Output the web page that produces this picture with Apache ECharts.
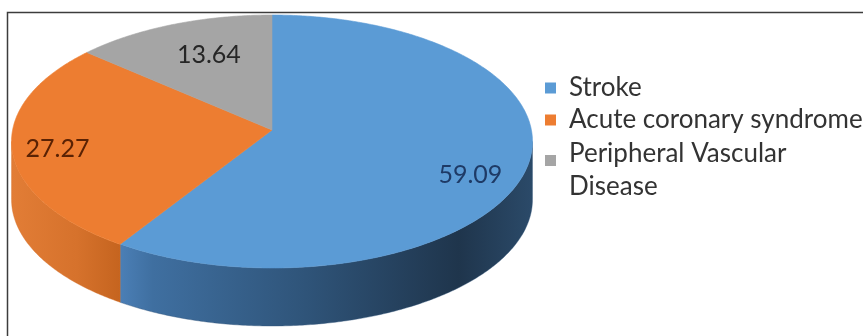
<!DOCTYPE html>
<html>
<head>
<meta charset="utf-8">
<script src="https://cdn.jsdelivr.net/npm/echarts@6/dist/echarts.min.js"></script>
<style>
  html, body { margin: 0; padding: 0; background: #ffffff; }
  #chart { width: 863px; height: 336px; }
</style>
</head>
<body>
<div id="chart"></div>
<script>
// Share of cases by diagnosis (%)
const categories = ['Stroke', 'Acute coronary syndrome', 'Peripheral Vascular Disease'];
const values = [59.09, 27.27, 13.64];

// Slice styling
const topColors = ['#5b9bd5', '#ed7d31', '#a5a5a5'];
const sideStops = [
  [[0, '#4b7fb6'], [0.08, '#3f6fa0'], [0.45, '#2f5479'], [0.82, '#1f354c'], [1, '#2b4a69']],
  [[0, '#e27d36'], [0.6, '#d6722c'], [1, '#c5641f']],
  [[0, '#8c8c8c'], [1, '#6e6e6e']]
];
const labelColors = ['#1e3a66', '#5a2204', '#262626'];
const labelShift = [[8, 18], [-20, 5], [13, 6]];

// Tilted-disc projection used for the 3-D pie
const geo = { cx: 272, cy: 130, sx: 259.4, sy: 125.45, k: 0.0909, depth: 58, labelR: 0.75 };
const TAU = Math.PI * 2;
const total = values.reduce((a, b) => a + b, 0);
const starts = values.map((v, i) => values.slice(0, i).reduce((a, b) => a + b, 0));
// rim section facing the viewer
const visFrom = Math.acos(-geo.k);
const visTo = TAU - visFrom;

function project(theta, r) {
  const a = r * Math.sin(theta);
  const b = -r * Math.cos(theta);
  const w = 1 - geo.k * b;
  return [geo.cx + geo.sx * a / w, geo.cy + geo.sy * b / w];
}

function arcPoints(t0, t1) {
  const n = Math.max(6, Math.ceil((t1 - t0) / 0.01));
  const pts = [];
  for (let j = 0; j <= n; j++) pts.push(project(t0 + (t1 - t0) * j / n, 1));
  return pts;
}

function renderSlice(params, api) {
  const i = params.seriesIndex;
  const v = api.value(0);
  const t0 = starts[i] / total * TAU;
  const t1 = t0 + v / total * TAU;
  const children = [];

  // outer wall
  const s0 = Math.max(t0, visFrom);
  const s1 = Math.min(t1, visTo);
  if (s1 > s0) {
    const upper = arcPoints(s0, s1);
    const lower = upper.map(p => [p[0], p[1] + geo.depth]).reverse();
    children.push({
      type: 'polygon',
      z2: 1,
      shape: { points: upper.concat(lower) },
      style: {
        fill: {
          type: 'linear', x: 0, y: 0, x2: 1, y2: 0,
          colorStops: sideStops[i].map(s => ({ offset: s[0], color: s[1] }))
        },
        stroke: sideStops[i][Math.floor(sideStops[i].length / 2)][1],
        lineWidth: 0.4
      }
    });
  }

  // top face
  const top = [project(0, 0)].concat(arcPoints(t0, t1));
  children.push({
    type: 'polygon',
    z2: 2,
    shape: { points: top },
    style: { fill: topColors[i], stroke: topColors[i], lineWidth: 0.6 }
  });

  // value label
  const mid = (t0 + t1) / 2;
  const p = project(mid, geo.labelR);
  children.push({
    type: 'text',
    z2: 3,
    x: p[0] + labelShift[i][0],
    y: p[1] + labelShift[i][1],
    style: {
      text: v.toFixed(2),
      fill: labelColors[i],
      font: '25px Lato',
      align: 'center',
      verticalAlign: 'middle'
    }
  });
  return { type: 'group', children };
}

// legend swatches: an 11px square placed inside an 11x44 box
const iconMid = 'path://M0,16.5h11v11h-11z M0,0 M11,44';
const iconHigh = 'path://M0,7h11v11h-11z M0,0 M11,44';

const chart = echarts.init(document.getElementById('chart'), null, { renderer: 'canvas' });
chart.setOption({
  animation: false,
  backgroundColor: '#ffffff',
  graphic: [{
    type: 'rect',
    silent: true,
    shape: { x: 7.5, y: 12.5, width: 900, height: 400 },
    style: { fill: 'none', stroke: '#3c3c3c', lineWidth: 1.5 }
  }],
  legend: {
    orient: 'vertical',
    left: 545,
    top: 66,
    padding: 0,
    itemWidth: 11,
    itemHeight: 44,
    itemGap: -12,
    selectedMode: false,
    textStyle: {
      fontFamily: 'Lato',
      fontSize: 26,
      color: '#333333',
      lineHeight: 33,
      padding: [0, 0, 0, 8]
    },
    data: categories.map((name, i) => i < 2
      ? { name, icon: iconMid }
      : {
          name,
          icon: iconHigh,
          textStyle: { width: 250, overflow: 'break', padding: [14, 0, 0, 8] }
        })
  },
  series: categories.map((name, i) => ({
    type: 'custom',
    name,
    coordinateSystem: 'none',
    itemStyle: { color: topColors[i] },
    renderItem: renderSlice,
    data: [[values[i]]]
  }))
});
</script>
</body>
</html>
